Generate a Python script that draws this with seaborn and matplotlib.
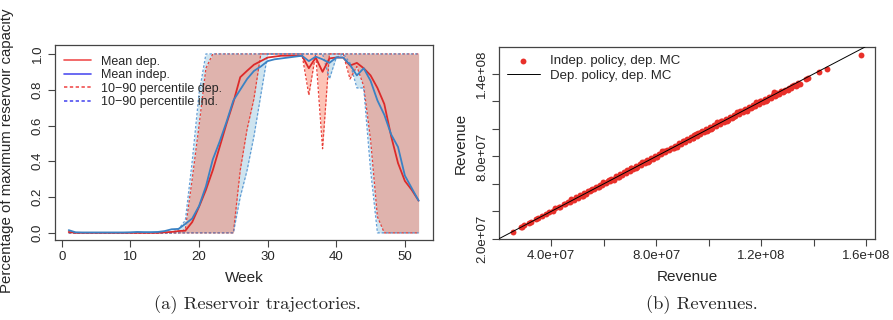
import numpy as np
import pandas as pd
import matplotlib
matplotlib.use('Agg')
import matplotlib.pyplot as plt
from matplotlib.lines import Line2D
import seaborn as sns

# weekly reservoir levels (fraction of max capacity)
weeks = list(range(1, 53))
mean_dep = [0.005, 0.0, 0.0, 0.0, 0.0, 0.0, 0.0, 0.0, 0.0, 0.0,
            0.0, 0.0, 0.0, 0.0, 0.003, 0.005, 0.01, 0.012, 0.06, 0.146,
            0.24, 0.35, 0.48, 0.61, 0.73, 0.87, 0.906, 0.94, 0.96, 0.98,
            0.985, 0.99, 0.99, 0.99, 0.99, 0.92, 0.98, 0.90, 0.975, 0.98,
            0.98, 0.935, 0.95, 0.92, 0.88, 0.81, 0.72, 0.54, 0.39, 0.29,
            0.24, 0.18]
mean_indep = [0.015, 0.003, 0.002, 0.002, 0.002, 0.002, 0.002, 0.002, 0.002, 0.003,
              0.005, 0.004, 0.004, 0.005, 0.01, 0.02, 0.022, 0.05, 0.08, 0.15,
              0.26, 0.41, 0.51, 0.62, 0.74, 0.80, 0.86, 0.905, 0.93, 0.96,
              0.97, 0.975, 0.98, 0.985, 0.99, 0.96, 0.985, 0.97, 0.95, 0.98,
              0.98, 0.94, 0.88, 0.92, 0.85, 0.74, 0.66, 0.55, 0.48, 0.32,
              0.25, 0.18]
p10_dep = [0.0] * 25 + [0.35, 0.58, 0.75, 1.0, 1.0,
                        1.0, 1.0, 1.0, 1.0, 1.0, 0.77, 1.0, 0.47, 1.0, 1.0,
                        1.0, 0.86, 0.93, 0.82, 0.52, 0.09, 0.0, 0.0, 0.0, 0.0,
                        0.0, 0.0]
p90_dep = [0.0] * 17 + [0.02, 0.3, 0.6, 0.92] + [1.0] * 31
p10_ind = [0.0] * 25 + [0.2, 0.35, 0.54, 0.77, 1.0,
                        1.0, 1.0, 1.0, 1.0, 1.0, 1.0, 1.0, 1.0, 0.86, 0.98,
                        1.0, 0.95, 0.81, 0.81, 0.35, 0.0, 0.0, 0.0, 0.0, 0.0,
                        0.0, 0.0]
p90_ind = [0.0] * 16 + [0.02, 0.07, 0.4, 0.78] + [1.0] * 32

# revenues, millions
rev_dep = [25.7, 28.4, 29.1, 29.8, 31.6, 32.3, 34.4, 35.2, 36.6, 37.9,
           39.1, 40.6, 41.7, 42.9, 43.6, 44.8, 45.5, 46.3, 47.2, 47.9,
           48.8, 49.6, 50.3, 51.1, 51.8, 52.6, 53.2, 54.0, 54.9, 55.5,
           56.4, 57.0, 57.9, 58.6, 59.3, 60.1, 60.9, 61.5, 62.4, 63.0,
           63.8, 64.7, 65.3, 66.2, 66.9, 67.6, 68.4, 69.1, 69.9, 70.6,
           71.3, 72.2, 72.8, 73.7, 74.3, 75.2, 75.9, 76.5, 77.4, 78.1,
           78.8, 79.6, 80.3, 81.2, 81.8, 82.7, 83.4, 84.1, 84.9, 85.6,
           86.4, 87.1, 87.8, 88.7, 89.3, 90.2, 90.9, 91.6, 92.4, 93.1,
           93.9, 94.6, 95.4, 96.1, 96.8, 97.6, 98.3, 99.1, 99.8, 100.6,
           101.3, 102.1, 102.8, 103.6, 104.3, 105.0, 105.8, 106.5, 107.3, 108.0,
           108.8, 109.5, 110.2, 111.0, 111.7, 112.5, 113.2, 114.0, 114.7, 115.5,
           116.2, 117.0, 117.7, 118.5, 119.2, 120.0, 120.7, 121.5, 122.2, 123.0,
           123.8, 124.5, 125.3, 126.1, 126.8, 127.6, 128.4, 129.2, 130.0, 130.7,
           131.5, 132.4, 133.2, 134.0, 134.8, 137.1, 137.7, 141.8, 145.1, 158.0,
           55.1, 61.9, 68.8, 74.8, 83.0, 90.5, 97.0, 104.7, 112.1, 119.6,
           58.2, 65.9, 72.5, 80.0, 86.9, 94.2, 101.0, 109.1, 116.6, 125.7,
           47.5, 52.2, 59.8, 64.1, 70.3, 77.0, 82.2, 88.1, 95.0, 99.5,
           103.2, 106.9, 110.6, 114.4, 118.0, 121.9, 124.9, 128.8, 131.9, 133.6]
rev_indep = [25.3, 28.6, 28.9, 29.9, 31.9, 32.0, 34.6, 35.5, 36.4, 38.3,
             39.5, 40.4, 42.2, 43.3, 43.4, 45.3, 45.2, 46.9, 47.0, 48.5,
             48.6, 50.2, 50.1, 51.8, 51.5, 53.3, 53.0, 54.6, 54.7, 56.1,
             56.2, 57.7, 57.6, 59.3, 59.0, 60.8, 60.6, 62.3, 62.1, 63.7,
             63.5, 65.5, 65.0, 66.9, 66.5, 68.4, 68.0, 69.8, 69.5, 71.4,
             71.0, 72.9, 72.5, 74.5, 73.9, 76.0, 75.5, 77.3, 77.0, 78.9,
             78.4, 80.4, 79.9, 82.0, 81.4, 83.5, 83.0, 84.9, 84.5, 86.4,
             86.0, 87.9, 87.3, 89.5, 88.9, 91.0, 90.5, 92.4, 91.9, 93.9,
             93.4, 95.4, 94.9, 96.9, 96.3, 98.4, 97.8, 99.9, 99.3, 101.3,
             100.8, 102.8, 102.3, 104.3, 103.7, 105.6, 105.2, 107.2, 106.7, 108.6,
             108.2, 110.1, 109.6, 111.5, 111.0, 113.0, 112.5, 114.4, 113.9, 115.9,
             115.4, 117.4, 116.8, 118.8, 118.3, 120.2, 119.8, 121.6, 121.2, 122.9,
             122.6, 124.4, 124.0, 125.8, 125.3, 127.2, 126.7, 128.6, 128.1, 130.0,
             129.5, 131.6, 131.2, 133.0, 132.8, 136.2, 136.9, 141.6, 143.6, 153.7,
             55.8, 62.7, 69.6, 75.6, 83.9, 91.3, 97.9, 105.5, 112.9, 120.3,
             57.6, 65.4, 71.8, 79.4, 86.3, 93.6, 100.2, 108.4, 115.8, 124.6,
             48.9, 51.0, 61.2, 63.0, 71.8, 75.8, 83.7, 86.8, 96.6, 98.2,
             104.8, 105.5, 112.3, 113.0, 119.7, 120.5, 126.5, 127.4, 131.0, 132.2]

sns.set_theme(style='ticks')
plt.rcParams['font.family'] = ['Liberation Sans', 'DejaVu Sans']

red = '#dc2a2a'
blue = '#3a82c4'

fig = plt.figure(figsize=(8.93, 3.2), dpi=100)
ax1 = fig.add_axes([55/893, 80/320, 378/893, 195/320])
ax2 = fig.add_axes([499/893, 81/320, 376/893, 192/320])

df = pd.DataFrame({'week': weeks, 'dep': mean_dep, 'indep': mean_indep,
                   'lo_dep': p10_dep, 'hi_dep': p90_dep,
                   'lo_ind': p10_ind, 'hi_ind': p90_ind})

# bands
ax1.fill_between(df['week'], df['lo_ind'], df['hi_ind'], color='#9ecae1', alpha=0.5, lw=0)
ax1.fill_between(df['week'], df['lo_dep'], df['hi_dep'], color='#fb6a4a', alpha=0.4, lw=0)
for col in ['lo_dep', 'hi_dep']:
    ax1.plot(df['week'], df[col], color='#e8403a', lw=0.9, ls=(0, (2, 1.5)))
for col in ['lo_ind', 'hi_ind']:
    ax1.plot(df['week'], df[col], color='#4b8fd0', lw=0.9, ls=(0, (2, 1.5)), alpha=0.85)
sns.lineplot(data=df, x='week', y='dep', color=red, lw=1.3, ax=ax1)
sns.lineplot(data=df, x='week', y='indep', color=blue, lw=1.3, ax=ax1)

ax1.set_xlim(-1.0, 54.1)
ax1.set_ylim(-0.04, 1.05)
ax1.set_xticks([0, 10, 20, 30, 40, 50])
ax1.set_yticks([0.0, 0.2, 0.4, 0.6, 0.8, 1.0])
ax1.set_yticklabels(['0.0', '0.2', '0.4', '0.6', '0.8', '1.0'], rotation=90, va='center')
ax1.set_xlabel('Week', fontsize=11, labelpad=6)
ax1.set_ylabel('Percentage of maximum reservoir capacity', fontsize=10.8)
ax1.yaxis.set_label_coords(-0.108, 0.46)

handles = [Line2D([], [], color='#f05050', lw=1.2),
           Line2D([], [], color='#5050f0', lw=1.2),
           Line2D([], [], color='#f05050', lw=1.2, ls=(0, (2, 1.5))),
           Line2D([], [], color='#5050f0', lw=1.2, ls=(0, (2, 1.5)))]
ax1.legend(handles, ['Mean dep.', 'Mean indep.', '10\u221290 percentile dep.', '10\u221290 percentile ind.'],
           loc='upper left', frameon=False, fontsize=9, handlelength=2.2,
           labelspacing=0.12, borderaxespad=0.3, bbox_to_anchor=(0.0, 0.99))

# revenue scatter
rev = pd.DataFrame({'dep': np.array(rev_dep) * 1e6, 'indep': np.array(rev_indep) * 1e6})
sns.scatterplot(data=rev, x='dep', y='indep', color='#e8302a', s=18, linewidth=0, ax=ax2,
                label='Indep. policy, dep. MC', zorder=2)
ax2.axline((2e7, 2e7), slope=1, color='black', lw=0.7, label='Dep. policy, dep. MC', zorder=3)

ax2.set_xlim(2.02e7, 1.633e8)
ax2.set_ylim(2.0e7, 1.595e8)
xt = [4e7, 6e7, 8e7, 1e8, 1.2e8, 1.4e8, 1.6e8]
ax2.set_xticks(xt)
ax2.set_xticklabels(['4.0e+07', '', '8.0e+07', '', '1.2e+08', '', '1.6e+08'])
yt = [2e7, 4e7, 6e7, 8e7, 1e8, 1.2e8, 1.4e8]
ax2.set_yticks(yt)
ax2.set_yticklabels(['2.0e+07', '', '', '8.0e+07', '', '', '1.4e+08'], rotation=90, va='center')
ax2.set_xlabel('Revenue', fontsize=11, labelpad=6)
ax2.set_ylabel('Revenue', fontsize=11, labelpad=6)
ax2.legend(loc='upper left', frameon=False, fontsize=9.5, handlelength=2.5,
           labelspacing=0.2, borderaxespad=0.2, markerscale=1.0)

for ax in (ax1, ax2):
    for sp in ax.spines.values():
        sp.set_visible(True)
        sp.set_color('#444444')
        sp.set_linewidth(0.9)
    ax.tick_params(direction='out', length=5, width=0.8, color='#444444',
                   labelsize=9.5, pad=3)

fig.text(257/893, 1 - 305/320, '(a) Reservoir trajectories.', ha='center', va='center',
         fontsize=13.4, family=['cmr10', 'DejaVu Serif'])
fig.text(702/893, 1 - 305/320, '(b) Revenues.', ha='center', va='center',
         fontsize=13.4, family=['cmr10', 'DejaVu Serif'])

fig.savefig('out.png', dpi=100)
